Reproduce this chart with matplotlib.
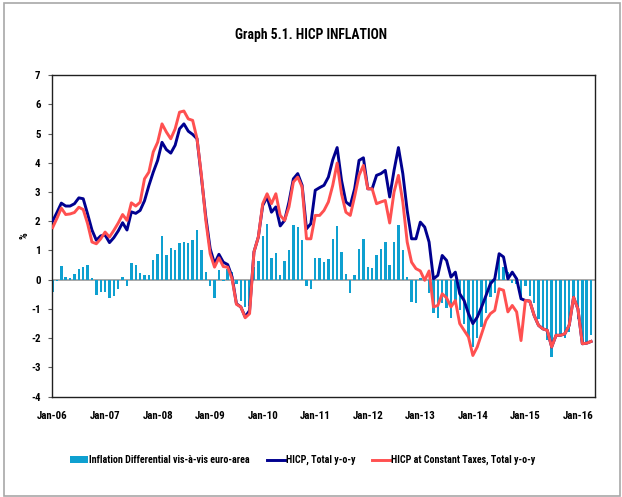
import matplotlib
matplotlib.use("Agg")
import matplotlib.pyplot as plt
import numpy as np
from matplotlib.patches import Rectangle, Patch
from matplotlib.lines import Line2D
from matplotlib import font_manager

names = {f.name for f in font_manager.fontManager.ttflist}
fam = [f for f in ['Liberation Sans Narrow', 'DejaVu Sans Condensed', 'Roboto Condensed', 'Open Sans Condensed']
       if f in names]
narrow = bool(fam)
fam = fam + ['DejaVu Sans']
plt.rcParams['font.family'] = fam
plt.rcParams['font.weight'] = 'bold'

tick_labels = ['Jan-06', 'Jan-07', 'Jan-08', 'Jan-09', 'Jan-10', 'Jan-11',
               'Jan-12', 'Jan-13', 'Jan-14', 'Jan-15', 'Jan-16']

differential = [
    -0.42, -0.05, 0.47, 0.08, 0.05, 0.18, 0.37, 0.45, 0.52, 0.06, -0.52, -0.42,
    -0.42, -0.62, -0.57, -0.30, 0.08, -0.22, 0.58, 0.52, 0.22, 0.17, 0.15, 0.68,
    0.87, 1.50, 0.86, 1.10, 1.00, 1.27, 1.30, 1.25, 1.35, 1.70, 1.03, 0.25,
    -0.22, -0.63, 0.32, -0.05, 0.37, 0.25, -0.15, -0.72, -0.93, -0.90, 0.45, 0.65,
    1.50, 1.92, 0.75, 0.90, 0.15, 0.65, 1.00, 1.88, 1.80, 1.35, -0.20, -0.30,
    0.75, 0.75, 0.60, 0.72, 1.40, 1.85, 0.95, 0.20, -0.45, 0.15, 1.05, 1.40,
    0.42, 0.40, 0.85, 1.05, 1.28, 0.50, 1.30, 1.88, 1.00, 0.10, -0.75, -0.78,
    0.05, -0.05, -0.45, -1.15, -1.30, -0.80, -0.95, -1.30, -0.75, -1.05, -1.50, -1.95,
    -2.30, -2.00, -1.60, -1.15, -0.60, -0.45, 0.75, 0.45, 0.25, -0.10, -0.15, -0.70,
    -0.20, -0.55, -0.80, -1.35, -1.70, -2.05, -2.65, -1.90, -1.85, -2.00, -1.80, -0.80,
    -1.35, -2.20, -2.20, -1.90,
]

hicp = [
    2.00, 2.30, 2.62, 2.52, 2.52, 2.60, 2.80, 2.77, 2.25, 1.70, 1.35, 1.50,
    1.53, 1.27, 1.44, 1.67, 1.95, 1.70, 2.32, 2.27, 2.37, 2.70, 3.22, 3.68,
    4.08, 4.70, 4.45, 4.33, 4.60, 5.16, 5.33, 5.08, 4.97, 4.82, 3.50, 2.15,
    1.06, 0.55, 0.87, 0.60, 0.52, 0.10, -0.82, -0.93, -1.27, -1.05, 0.95, 1.46,
    2.54, 2.83, 2.31, 2.49, 1.84, 2.03, 2.66, 3.45, 3.63, 3.23, 1.74, 1.92,
    3.06, 3.15, 3.23, 3.51, 4.10, 4.52, 3.40, 2.66, 2.54, 3.11, 4.08, 4.17,
    3.11, 3.11, 3.57, 3.63, 3.74, 2.83, 3.74, 4.52, 3.63, 2.37, 1.40, 1.40,
    1.97, 1.80, 1.29, 0.03, 0.15, 0.83, 0.66, 0.09, 0.26, -0.48, -0.71, -1.16,
    -1.50, -1.28, -0.93, -0.54, -0.14, 0.03, 0.89, 0.78, 0.03, 0.26, 0.03, -0.65,
    -0.71, -0.73, -1.22, -1.56, -1.68, -1.73, -2.30, -1.90, -1.90, -1.85, -1.56, -0.60,
    -1.00, -2.19, -2.17, -2.11,
]

hicp_const_tax = [
    1.78, 2.10, 2.45, 2.23, 2.25, 2.30, 2.48, 2.40, 1.92, 1.29, 1.23, 1.40,
    1.63, 1.46, 1.69, 1.94, 2.23, 2.03, 2.63, 2.52, 2.65, 3.45, 3.68, 4.37,
    4.70, 5.33, 5.05, 4.82, 5.16, 5.73, 5.77, 5.50, 5.45, 4.82, 3.57, 2.03,
    0.89, 0.43, 0.75, 0.45, 0.43, 0.03, -0.84, -0.93, -1.30, -1.16, 0.95, 1.46,
    2.60, 2.94, 2.60, 2.94, 2.20, 2.03, 2.49, 3.34, 3.51, 3.17, 1.40, 1.40,
    2.20, 2.20, 2.37, 2.66, 3.23, 3.99, 2.94, 2.31, 2.20, 2.85, 3.57, 3.91,
    3.11, 3.11, 2.60, 2.66, 2.71, 1.94, 3.00, 3.57, 2.66, 1.29, 0.60, 0.38,
    0.30, -0.02, 0.30, -0.93, -0.88, -0.48, -0.62, -0.93, -0.71, -1.50, -1.73, -1.96,
    -2.59, -2.30, -1.85, -1.39, -1.16, -1.05, -0.31, -0.36, -1.10, -0.88, -1.10, -2.08,
    -0.71, -0.73, -1.22, -1.56, -1.68, -1.73, -2.30, -1.90, -1.90, -1.85, -1.56, -0.60,
    -1.00, -2.19, -2.17, -2.11,
]

n = len(hicp)
x = np.arange(n)

tick_fs = 7.8 if narrow else 7.0
leg_fs = 7.2 if narrow else 6.2
title_fs = 9.8 if narrow else 9.2

fig = plt.figure(figsize=(6.22, 4.97), dpi=100)
ax = fig.add_axes([0.0831, 0.2018, 0.8735, 0.6472])

ax.bar(x, differential, width=0.55, color='#0EA0D0', zorder=2)
ax.axhline(0, color='#A0A0A0', lw=1.3, zorder=1)
ax.plot(x, hicp, color='#00008F', lw=2.1, zorder=3, solid_joinstyle='round')
ax.plot(x, hicp_const_tax, color='#FF5050', lw=2.1, zorder=4, solid_joinstyle='round')

ax.set_xlim(-0.2, n - 0.1)
ax.set_ylim(-4, 7)
ax.set_yticks(range(-4, 8))
ax.set_yticklabels([str(v) for v in range(-4, 8)], fontsize=tick_fs, fontweight='bold')
ax.set_xticks(np.arange(0, n, 12))
ax.set_xticklabels(tick_labels, fontsize=tick_fs, fontweight='bold')
ax.tick_params(axis='x', length=0, pad=10)
ax.tick_params(axis='y', length=3, width=0.8, pad=5, color='#606060')
for s in ax.spines.values():
    s.set_color('#202020')
    s.set_linewidth(1.0)
ax.set_ylabel('%', fontsize=7.5, fontweight='bold', labelpad=1)

fig.text(0.5, 0.93, 'Graph 5.1. HICP INFLATION', ha='center', va='center',
         fontsize=title_fs, fontweight='bold')

handles = [Patch(facecolor='#0EA0D0', edgecolor='none'),
           Line2D([], [], color='#00008F', lw=2.1),
           Line2D([], [], color='#FF5050', lw=2.1)]
labels = ['Inflation Differential vis-à-vis euro-area', 'HICP, Total y-o-y',
          'HICP at Constant Taxes, Total y-o-y']
fig.legend(handles, labels, loc='center', bbox_to_anchor=(0.487, 0.074), ncol=3,
           frameon=False, handlelength=1.8, handletextpad=0.1,
           columnspacing=1.7, prop={'weight': 'bold', 'size': leg_fs})

fig.patches.append(Rectangle((0.0064, 0.003), 0.99, 0.991, transform=fig.transFigure,
                             fill=False, edgecolor='#A8A8A8', lw=1.2))

fig.savefig('out.png', dpi=100)
